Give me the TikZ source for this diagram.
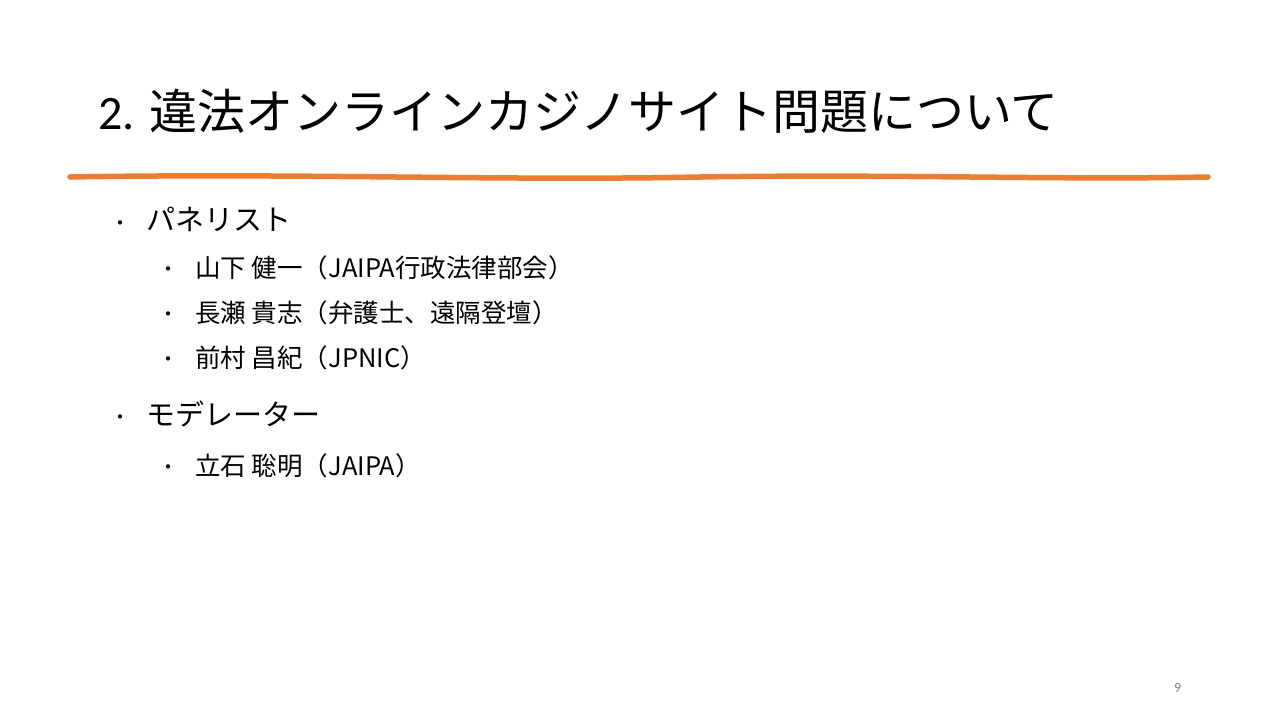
\documentclass[tikz,border=0pt]{standalone}
\usepackage{fontspec}
\setmainfont{Carlito}
\newfontfamily\cjk{Noto Sans CJK JP}
\definecolor{accent}{RGB}{237,125,49}
\begin{document}
\begin{tikzpicture}[x=1pt,y=-1pt,
  every node/.style={inner sep=0pt,anchor=base west},
  lvla/.style={font=\cjk\fontsize{29}{32}\selectfont},
  lvlb/.style={font=\cjk\fontsize{25.5}{28}\selectfont},
  dot/.style={font=\cjk\fontsize{20}{24}\selectfont}]
\useasboundingbox (0,0) rectangle (1280,720);
\fill[white] (0,0) rectangle (1280,720);
\node (title) at (98,129) {\fontsize{48}{54}\selectfont 2. {\cjk 違法オンラインカジノサイト問題について}};
\draw[accent,line width=5.5pt,line cap=round] (70,177) .. controls (300,173) and (500,181) .. (700,177) .. controls (900,174) and (1050,180) .. (1208,177);
\node[dot] (b1) at (110,230) {・};
\node[lvla] (t1) at (146,230) {パネリスト};
\node[dot] (b2) at (158,276) {・};
\node[lvlb] (t2) at (195,277) {山下 健一（JAIPA行政法律部会）};
\node[dot] (b3) at (158,321) {・};
\node[lvlb] (t3) at (195,322) {長瀬 貴志（弁護士、遠隔登壇）};
\node[dot] (b4) at (158,366) {・};
\node[lvlb] (t4) at (195,367) {前村 昌紀（JPNIC）};
\node[dot] (b5) at (110,424) {・};
\node[lvla] (t5) at (146,425) {モデレーター};
\node[dot] (b6) at (158,474) {・};
\node[lvlb] (t6) at (195,475) {立石 聡明（JAIPA）};
\node[text=gray,font=\fontsize{14}{16}\selectfont] (pg) at (1174,692) {9};
\end{tikzpicture}
\end{document}
